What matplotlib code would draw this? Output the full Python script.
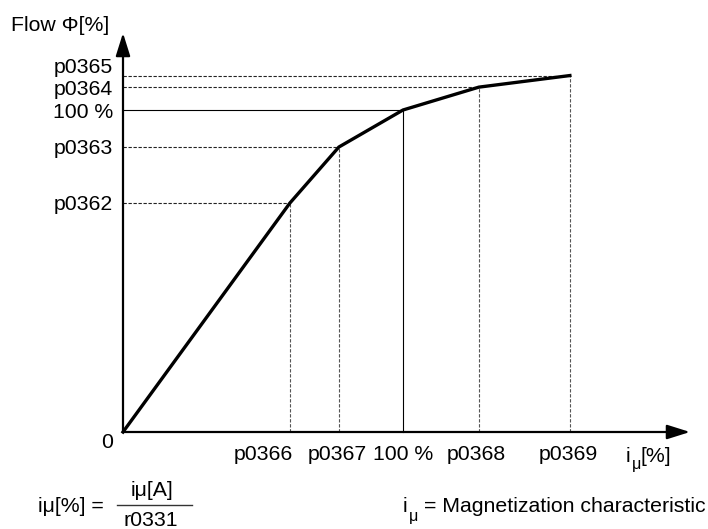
import matplotlib
matplotlib.use("Agg")
import matplotlib.pyplot as plt

plt.rcParams['font.family'] = ['Liberation Sans', 'DejaVu Sans']

# Data (x: magnetizing current %, y: flux %)
x_labels = ["p0366", "p0367", "100 %", "p0368", "p0369"]
x_values = [59.6, 77.1, 100.0, 127.1, 159.6]
y_labels = ["p0362", "p0363", "100 %", "p0364", "p0365"]
y_values = [71.1, 88.5, 100.0, 107.1, 110.7]

curve_x = [0.0] + x_values
curve_y = [0.0] + y_values

fig = plt.figure(figsize=(7.08, 5.29), dpi=100)
ax = fig.add_axes([0, 0, 1, 1])
# pixel mapping: x_px = 123 + 2.8*x ; y_px(top) = 432 - 3.22*y
ax.set_xlim(-123 / 2.8, (708 - 123) / 2.8)
ax.set_ylim((432 - 529) / 3.22, 432 / 3.22)
ax.axis('off')

px = 1 / 2.8
py = 1 / 3.22


def X(p):
    return (p - 123) * px


def Y(p):
    return (432 - p) * py


# guide lines
for xv, yv, lab in zip(x_values, y_values, x_labels):
    if lab == "100 %":
        ax.plot([xv, xv], [0, yv], color='black', lw=0.8, zorder=2)
        ax.plot([0, xv], [yv, yv], color='black', lw=0.8, zorder=2)
    else:
        ax.plot([xv, xv], [0, yv], color='#555555', lw=0.8, ls=(0, (3, 1.5)), zorder=2)
        ax.plot([0, xv], [yv, yv], color='#222222', lw=0.8, ls=(0, (3, 1.5)), zorder=2)

# curve
ax.plot(curve_x, curve_y, color='black', lw=2.4, solid_joinstyle='miter', zorder=4)

# axes with arrows
arrow = dict(arrowstyle='-|>,head_length=0.7,head_width=0.22', color='black',
             lw=1.6, mutation_scale=20, shrinkA=0, shrinkB=0)
ax.annotate('', xy=(0, Y(33)), xytext=(0, 0), arrowprops=arrow, zorder=5)
ax.annotate('', xy=(X(690), 0), xytext=(0, 0), arrowprops=arrow, zorder=5)

fs = 15.3
sub = 11.5
# y tick labels (small offsets to avoid overlap)
y_off = {"p0365": 7.7 * py, "p0364": -2 * py, "100 %": -2 * py, "p0363": -1 * py, "p0362": -1 * py}
for yv, lab in zip(y_values, y_labels):
    ax.text(-10 * px, yv + y_off[lab], lab, ha='right', va='center', fontsize=fs)

# x tick labels
x_off = {"p0366": -27 * px, "p0367": -2 * px, "100 %": 0, "p0368": -3 * px, "p0369": -2 * px}
for xv, lab in zip(x_values, x_labels):
    ax.text(xv + x_off[lab], -23 * py, lab, ha='center', va='center', fontsize=fs)

ax.text(-10 * px, -10 * py, "0", ha='right', va='center', fontsize=fs)
ax.text(X(11), Y(25), "Flow \u03a6[%]", ha='left', va='center', fontsize=fs)

# x axis label i_mu[%]
ax.text(X(626), Y(456), "i", ha='left', va='center', fontsize=fs)
ax.text(X(632), Y(465), "\u03bc", ha='left', va='center', fontsize=sub)
ax.text(X(641), Y(456), "[%]", ha='left', va='center', fontsize=fs)

# formula
ax.text(X(38), Y(506), "i\u03bc[%] =", ha='left', va='center', fontsize=fs)
ax.text(X(152), Y(490), "i\u03bc[A]", ha='center', va='center', fontsize=fs)
ax.plot([X(117), X(192)], [Y(505), Y(505)], color='#333333', lw=1.0)
ax.text(X(151), Y(520), "r0331", ha='center', va='center', fontsize=fs)

# legend text
ax.text(X(403), Y(507), "i", ha='left', va='center', fontsize=fs)
ax.text(X(409), Y(516), "\u03bc", ha='left', va='center', fontsize=sub)
ax.text(X(706), Y(507), "= Magnetization characteristic", ha='right', va='center', fontsize=fs)

fig.savefig("out.png", dpi=100)
